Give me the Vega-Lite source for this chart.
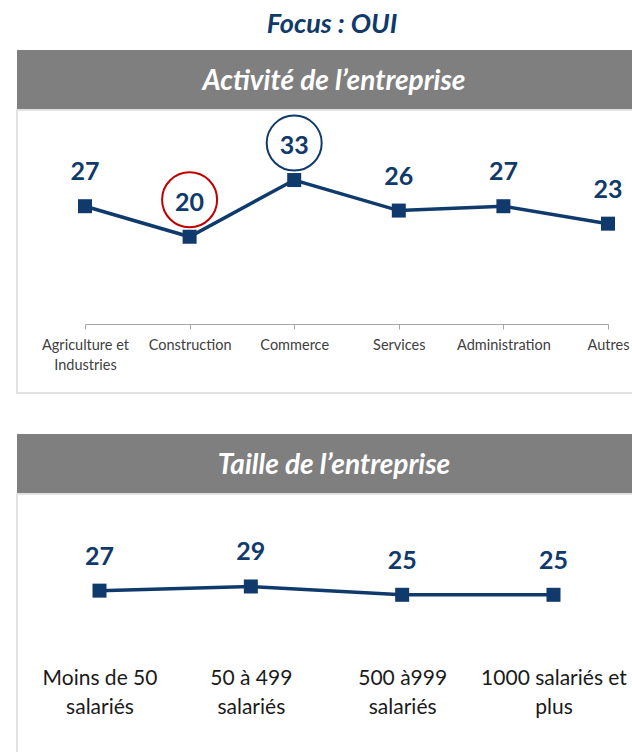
{
  "$schema": "https://vega.github.io/schema/vega-lite/v6.json",
  "padding": {"left": 16, "top": 11, "right": 0, "bottom": 0},
  "title": {"text": "Focus : OUI", "font": "Lato", "fontSize": 27, "fontStyle": "italic", "fontWeight": "bold", "color": "#0F3A6B", "anchor": "middle", "offset": 11, "dx": 7},
  "config": {"view": {"stroke": null}, "font": "Lato"},
  "datasets": {
    "activite": [
      {"secteur": "Agriculture et Industries", "pct": 27},
      {"secteur": "Construction", "pct": 20, "repere": "min"},
      {"secteur": "Commerce", "pct": 33, "repere": "max"},
      {"secteur": "Services", "pct": 26},
      {"secteur": "Administration", "pct": 27},
      {"secteur": "Autres", "pct": 23}
    ],
    "taille": [
      {"taille": "Moins de 50 salariés", "pct": 27},
      {"taille": "50 à 499 salariés", "pct": 29},
      {"taille": "500 à999 salariés", "pct": 25},
      {"taille": "1000 salariés et plus", "pct": 25}
    ]
  },
  "spacing": 40,
  "vconcat": [
    {
      "spacing": 0,
      "vconcat": [
        {
          "width": 616, "height": 59,
          "view": {"fill": "#7F7F7F", "stroke": null},
          "data": {"values": [{"titre": "Activité de l’entreprise"}]},
          "mark": {"type": "text", "color": "#FFFFFF", "font": "Lato", "fontSize": 28, "fontStyle": "italic", "fontWeight": "bold", "baseline": "alphabetic", "dy": 10, "dx": 9},
          "encoding": {"text": {"field": "titre"}}
        },
        {
          "width": 616, "height": 283,
          "view": {"stroke": "#D9D9D9", "strokeWidth": 1.5},
          "data": {"name": "activite"},
          "encoding": {
            "x": {"field": "secteur", "type": "nominal", "sort": null,
                  "scale": {"type": "point", "range": [68, 591], "padding": 0},
                  "axis": {"title": null, "orient": "bottom", "offset": -69, "grid": false,
                           "domainColor": "#A6A6A6", "tickColor": "#A6A6A6", "tickSize": 5,
                           "labelAngle": 0, "labelFont": "Lato", "labelFontSize": 14.5, "labelColor": "#404040",
                           "labelPadding": 9, "labelLineHeight": 20, "labelOverlap": false,
                           "labelExpr": "datum.label == 'Agriculture et Industries' ? ['Agriculture et', 'Industries'] : datum.label"}},
            "y": {"field": "pct", "type": "quantitative", "scale": {"domain": [0, 40], "range": [214, 39.5]}, "axis": null}
          },
          "layer": [
            {"mark": {"type": "line", "color": "#0F3A6B", "strokeWidth": 3.5}},
            {"mark": {"type": "point", "shape": "square", "filled": true, "size": 196, "color": "#0F3A6B", "opacity": 1}},
            {"mark": {"type": "text", "color": "#0F3A6B", "font": "Lato", "fontSize": 25, "fontWeight": "bold", "baseline": "alphabetic", "dy": -26},
             "encoding": {"text": {"field": "pct", "type": "quantitative"}}},
            {"transform": [{"filter": "datum.repere != null"}],
             "mark": {"type": "point", "shape": "circle", "filled": false, "size": 3025, "strokeWidth": 2, "opacity": 1, "yOffset": -37},
             "encoding": {"color": {"field": "repere", "type": "nominal", "scale": {"domain": ["min", "max"], "range": ["#C00000", "#0F3A6B"]}, "legend": null}}}
          ]
        }
      ]
    },
    {
      "spacing": 0,
      "vconcat": [
        {
          "width": 616, "height": 59,
          "view": {"fill": "#7F7F7F", "stroke": null},
          "data": {"values": [{"titre": "Taille de l’entreprise"}]},
          "mark": {"type": "text", "color": "#FFFFFF", "font": "Lato", "fontSize": 28, "fontStyle": "italic", "fontWeight": "bold", "baseline": "alphabetic", "dy": 10, "dx": 9},
          "encoding": {"text": {"field": "titre"}}
        },
        {
          "width": 616, "height": 259,
          "view": {"stroke": "#D9D9D9", "strokeWidth": 1.5},
          "data": {"name": "taille"},
          "encoding": {
            "x": {"field": "taille", "type": "nominal", "sort": null,
                  "scale": {"type": "point", "range": [82.5, 536.5], "padding": 0},
                  "axis": {"title": null, "orient": "bottom", "offset": -106, "grid": false,
                           "domain": false, "ticks": false,
                           "labelAngle": 0, "labelFont": "Lato", "labelFontSize": 21, "labelColor": "#1A1A1A",
                           "labelPadding": 20, "labelLineHeight": 29, "labelOverlap": false,
                           "labelExpr": "datum.label == 'Moins de 50 salariés' ? ['Moins de 50', 'salariés'] : datum.label == '50 à 499 salariés' ? ['50 à 499', 'salariés'] : datum.label == '500 à999 salariés' ? ['500 à999', 'salariés'] : ['1000 salariés et', 'plus']"}},
            "y": {"field": "pct", "type": "quantitative", "scale": {"domain": [0, 40], "range": [152.8, 69.6]}, "axis": null}
          },
          "layer": [
            {"mark": {"type": "line", "color": "#0F3A6B", "strokeWidth": 3.5}},
            {"mark": {"type": "point", "shape": "square", "filled": true, "size": 196, "color": "#0F3A6B", "opacity": 1}},
            {"mark": {"type": "text", "color": "#0F3A6B", "font": "Lato", "fontSize": 25, "fontWeight": "bold", "baseline": "alphabetic", "dy": -26},
             "encoding": {"text": {"field": "pct", "type": "quantitative"}}}
          ]
        }
      ]
    }
  ]
}
